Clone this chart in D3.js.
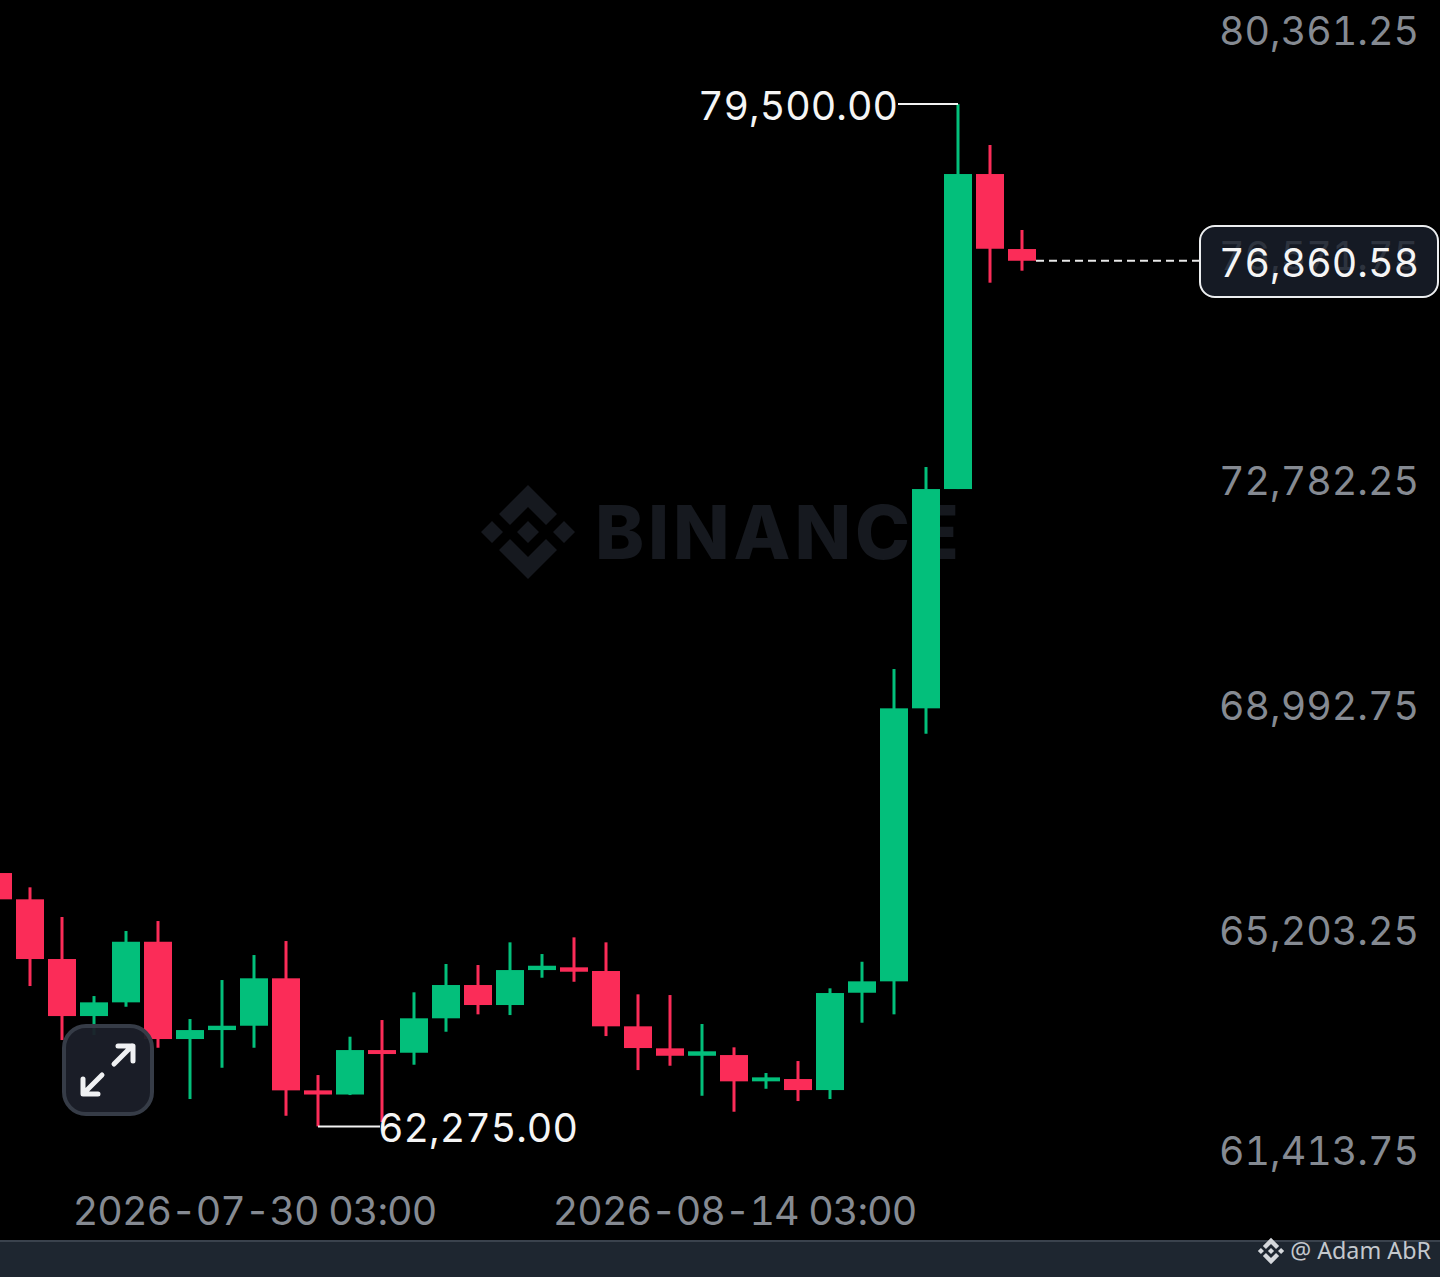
<!DOCTYPE html>
<html>
<head>
<meta charset="utf-8">
<script src="https://cdn.jsdelivr.net/npm/d3@7"></script>
<style>
  html, body { margin: 0; padding: 0; background: #000; }
  svg { display: block; }
  text { font-family: Inter, "Noto Sans", sans-serif; }
  .num { font-variant-numeric: tabular-nums; }
  .date { font-variant-numeric: tabular-nums; letter-spacing: -0.95px; }
</style>
</head>
<body>
<svg id="chart" width="1440" height="1277"></svg>
<script>
const opens  = [66544,66101,65095,64134,64365,65386,63747,63898,63971,64770,62882,62812,63561,63516,64096,64657,64320,64909,64955,64893,63961,63590,63465,63477,63034,63073,62887,64527,64719,69319,73014,78322,77058];
const highs  = [66730,66303,65803,64471,65567,65735,64084,64741,65162,65398,63140,63786,64067,64534,65011,64994,65376,65179,65460,65376,64500,64488,64000,63607,63174,63376,64601,65049,69981,73385,79500,78811,77379];
const lows   = [65550,64640,63730,63814,64291,63600,62736,63263,63600,62454,62275,62803,62348,63314,63870,64163,64151,64780,64712,63797,63224,63297,62791,62522,62909,62702,62736,64022,64163,68891,73014,76491,76693];
const closes = [66101,65095,64134,64365,65386,63747,63898,63971,64770,62882,62812,63561,63494,64096,64657,64320,64909,64982,64881,63961,63595,63465,63540,63034,63101,62887,64522,64719,69319,73014,78322,77063,76860.58];
const priceTicks = [80361.25, 76571.75, 72782.25, 68992.75, 65203.25, 61413.75];
const dateTicks = ["2026-07-30T03:00Z", "2026-08-14T03:00Z"].map(d => new Date(d));
const firstDay = new Date("2026-07-22T03:00Z");
const highLabel = 79500, lowLabel = 62275, lastPrice = 76860.58;

const svg = d3.select("#chart");
const width = 1440, height = 1277;
const green = "#03bf7b", red = "#fb2c58";
const bodyW = 28, wickW = 3;
const labelSize = 39.4;
const fmt = d3.format(",.2f");

svg.append("rect").attr("width", width).attr("height", height).attr("fill", "#000");

const x = d3.scaleUtc()
  .domain([firstDay, d3.utcDay.offset(firstDay, closes.length - 1)])
  .range([-2, 1022]);
const y = d3.scaleLinear()
  .domain([61413.75, 80361.25])
  .range([1177.5, 53]);

// binance logo, drawn around 0,0
const logoPath = [
  "M0,-47L29,-18L18,-7L0,-25L-18,-7L-29,-18Z",
  "M0,47L29,18L18,7L0,25L-18,7L-29,18Z",
  "M0,-11L11,0L0,11L-11,0Z",
  "M-36,-11L-25,0L-36,11L-47,0Z",
  "M36,-11L47,0L36,11L25,0Z"
].join("");

// watermark sits behind the candles
svg.append("path")
  .attr("d", logoPath)
  .attr("transform", "translate(528,532)")
  .attr("fill", "#16191f");
svg.append("text")
  .attr("x", 595).attr("y", 559)
  .attr("font-size", 74).attr("font-weight", 800)
  .attr("textLength", 364)
  .attr("lengthAdjust", "spacing")
  .attr("fill", "#16191f")
  .text("BINANCE");

// price axis, labels sit above their tick position
const yAxis = svg.append("g")
  .attr("transform", "translate(1419,0)")
  .call(d3.axisLeft(y).tickValues(priceTicks).tickFormat(fmt).tickSize(0));
yAxis.select(".domain").remove();
yAxis.selectAll("text")
  .attr("class", "num")
  .attr("x", 0)
  .attr("dy", d => d === 61413.75 ? -23.5 : -19)
  .attr("dominant-baseline", "middle")
  .attr("font-size", labelSize)
  .attr("font-family", "Inter, 'Noto Sans', sans-serif")
  .attr("fill", "#858a92");

// date axis
const xAxis = svg.append("g")
  .attr("transform", "translate(0,1214)")
  .call(d3.axisBottom(x).tickValues(dateTicks).tickFormat(d3.utcFormat("%Y-%m-%d %H:%M")).tickSize(0));
xAxis.select(".domain").remove();
xAxis.selectAll("text")
  .attr("class", "date")
  .attr("y", 0).attr("dy", 0)
  .attr("dominant-baseline", "middle")
  .attr("font-size", labelSize)
  .attr("font-family", "Inter, 'Noto Sans', sans-serif")
  .attr("fill", "#858a92");

// candles
const candles = closes.map((c, i) => ({
  day: d3.utcDay.offset(firstDay, i), o: opens[i], h: highs[i], l: lows[i], c
}));
const colorOf = d => d.c >= d.o ? green : red;

svg.append("g").selectAll("rect")
  .data(candles)
  .join("rect")
  .attr("x", d => x(d.day) - wickW / 2)
  .attr("width", wickW)
  .attr("y", d => y(d.h))
  .attr("height", d => y(d.l) - y(d.h))
  .attr("fill", colorOf);

svg.append("g").selectAll("rect")
  .data(candles)
  .join("rect")
  .attr("x", d => x(d.day) - bodyW / 2)
  .attr("width", bodyW)
  .attr("y", d => y(Math.max(d.o, d.c)))
  .attr("height", d => Math.abs(y(d.o) - y(d.c)))
  .attr("fill", colorOf);

// high and low markers
const highDay = candles.find(d => d.h === highLabel).day;
const lowDay = candles.find(d => d.l === lowLabel).day;

svg.append("line")
  .attr("x1", x(highDay)).attr("x2", 898)
  .attr("y1", y(highLabel)).attr("y2", y(highLabel))
  .attr("stroke", "#f2f2f2").attr("stroke-width", 2);
svg.append("text")
  .attr("class", "num")
  .attr("x", 898).attr("y", y(highLabel) + 5)
  .attr("text-anchor", "end").attr("dominant-baseline", "middle")
  .attr("font-size", labelSize).attr("fill", "#f5f5f5")
  .text(fmt(highLabel));

svg.append("line")
  .attr("x1", x(lowDay)).attr("x2", 380)
  .attr("y1", y(lowLabel)).attr("y2", y(lowLabel))
  .attr("stroke", "#f2f2f2").attr("stroke-width", 2);
svg.append("text")
  .attr("class", "num")
  .attr("x", 378).attr("y", y(lowLabel) + 5)
  .attr("dominant-baseline", "middle")
  .attr("font-size", labelSize).attr("fill", "#f5f5f5")
  .text(fmt(lowLabel));

// last price line and tag, the tick label behind it shows through a little
svg.append("line")
  .attr("x1", 1036).attr("x2", 1200)
  .attr("y1", y(lastPrice)).attr("y2", y(lastPrice))
  .attr("stroke", "#e8e8e8").attr("stroke-width", 2)
  .attr("stroke-dasharray", "8,5");
svg.append("rect")
  .attr("x", 1200).attr("y", 226)
  .attr("width", 238).attr("height", 71).attr("rx", 15)
  .attr("fill", "#1a202c").attr("fill-opacity", 0.82)
  .attr("stroke", "#eceef0").attr("stroke-width", 2);
svg.append("text")
  .attr("class", "num")
  .attr("x", 1419).attr("y", y(lastPrice) + 5)
  .attr("text-anchor", "end").attr("dominant-baseline", "middle")
  .attr("font-size", labelSize).attr("fill", "#f5f5f5")
  .text(fmt(lastPrice));

// expand button
svg.append("rect")
  .attr("x", 64).attr("y", 1026)
  .attr("width", 88).attr("height", 88).attr("rx", 22)
  .attr("fill", "#1b1f29").attr("fill-opacity", 0.95)
  .attr("stroke", "#363c47").attr("stroke-width", 4);
svg.append("path")
  .attr("d", "M114,1064L132,1046M118,1046L133,1046L133,1061M102,1075L84,1093M83,1079L83,1094L98,1094")
  .attr("fill", "none").attr("stroke", "#f0f1f3")
  .attr("stroke-width", 5).attr("stroke-linecap", "round").attr("stroke-linejoin", "round");

// footer
svg.append("rect")
  .attr("x", 0).attr("y", 1241)
  .attr("width", width).attr("height", 36)
  .attr("fill", "#1e2630");
svg.append("rect")
  .attr("x", 0).attr("y", 1240)
  .attr("width", width).attr("height", 2)
  .attr("fill", "#3a424d");
svg.append("path")
  .attr("d", logoPath)
  .attr("transform", "translate(1271,1251) scale(0.28)")
  .attr("fill", "#d5d8dc");
svg.append("text")
  .attr("x", 1431).attr("y", 1253)
  .attr("text-anchor", "end").attr("dominant-baseline", "middle")
  .attr("font-size", 23.3).attr("fill", "#c4c8cd")
  .style("font-family", "'Noto Sans', sans-serif")
  .text("@ Adam AbR");
</script>
</body>
</html>
